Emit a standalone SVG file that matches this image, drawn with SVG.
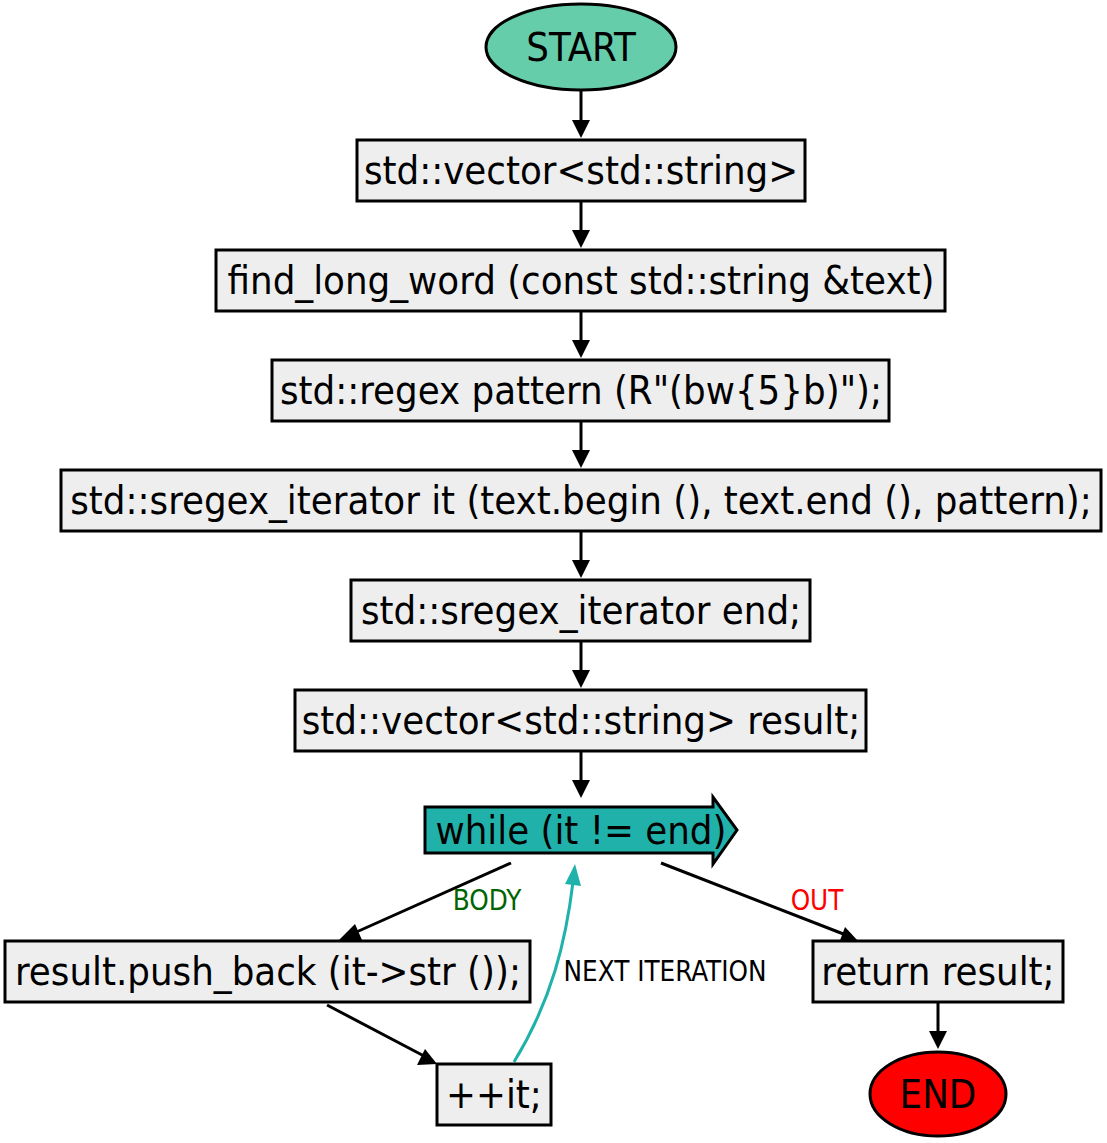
<svg xmlns="http://www.w3.org/2000/svg" width="1107" height="1143" viewBox="0 0 1107 1143">
<style>
.box{fill:#eeeeee;stroke:#000;stroke-width:3}
.t{font-family:"DejaVu Sans Condensed","DejaVu Sans",sans-serif;font-size:39.7px;text-anchor:middle;fill:#000}
.lbl{font-family:"DejaVu Sans Condensed","DejaVu Sans",sans-serif;font-size:27.5px;text-anchor:middle}
.e{fill:none;stroke:#000;stroke-width:3}
</style>
<rect width="1107" height="1143" fill="#fff"/>
<g id="edges">
<path class="e" d="M581,91 L581,126" />
<path d="M572,120 L581,138 L590,120 z" fill="#000"/>
<path class="e" d="M581,202 L581,236" />
<path d="M572,230 L581,248 L590,230 z" fill="#000"/>
<path class="e" d="M581,312 L581,346" />
<path d="M572,340 L581,358 L590,340 z" fill="#000"/>
<path class="e" d="M581,422 L581,456" />
<path d="M572,450 L581,468 L590,450 z" fill="#000"/>
<path class="e" d="M581,532 L581,566" />
<path d="M572,560 L581,578 L590,560 z" fill="#000"/>
<path class="e" d="M581,642 L581,676" />
<path d="M572,670 L581,688 L590,670 z" fill="#000"/>
<path class="e" d="M581,752 L581,786" />
<path d="M572,780 L581,798 L590,780 z" fill="#000"/>
<path class="e" d="M511,863 L352,934" />
<path d="M355,924 L338,941 L362,940 z" fill="#000"/>
<text class="lbl" x="487" y="910" fill="#006400">BODY</text>
<path class="e" d="M327,1005 L424,1056" />
<path d="M417,1065 L437,1064 L425,1049 z" fill="#000"/>
<path fill="none" stroke="#20b2aa" stroke-width="3" d="M514,1062 C552,1000 566,940 573,882" />
<path d="M565,884 L575,864 L581,886 z" fill="#20b2aa"/>
<text class="lbl" x="665" y="981" fill="#000">NEXT ITERATION</text>
<path class="e" d="M661,863 L846,935" />
<path d="M839,943 L859,942 L845,927 z" fill="#000"/>
<text class="lbl" x="817" y="910" fill="#ff0000">OUT</text>
<path class="e" d="M938,1003 L938,1037" />
<path d="M929,1031 L938,1049 L947,1031 z" fill="#000"/>
</g>
<g id="start"><ellipse cx="581" cy="47" rx="95" ry="43" fill="#66cdaa" stroke="#000" stroke-width="3"/><text class="t" x="581" y="61">START</text></g>
<g id="n1"><rect class="box" x="357" y="140" width="448" height="61"/><text class="t" x="581" y="184">std::vector&lt;std::string&gt;</text></g>
<g id="n2"><rect class="box" x="216" y="250" width="729" height="61"/><text class="t" x="581" y="294">find_long_word (const std::string &amp;text)</text></g>
<g id="n3"><rect class="box" x="272" y="360" width="617" height="61"/><text class="t" x="581" y="404">std::regex pattern (R"(bw{5}b)");</text></g>
<g id="n4"><rect class="box" x="61" y="470" width="1040" height="61"/><text class="t" x="581" y="514">std::sregex_iterator it (text.begin (), text.end (), pattern);</text></g>
<g id="n5"><rect class="box" x="351" y="580" width="459" height="61"/><text class="t" x="581" y="624">std::sregex_iterator end;</text></g>
<g id="n6"><rect class="box" x="295" y="690" width="571" height="61"/><text class="t" x="581" y="734">std::vector&lt;std::string&gt; result;</text></g>
<g id="loop"><path d="M425,807 L713,807 L713,797 L737,830 L713,864 L713,853 L425,853 z" fill="#20b2aa" stroke="#000" stroke-width="3"/><text class="t" x="581" y="844">while (it != end)</text></g>
<g id="body1"><rect class="box" x="5" y="941" width="525" height="61"/><text class="t" x="268" y="985">result.push_back (it-&gt;str ());</text></g>
<g id="inc"><rect class="box" x="437" y="1064" width="114" height="61"/><text class="t" x="494" y="1108">++it;</text></g>
<g id="ret"><rect class="box" x="813" y="941" width="250" height="61"/><text class="t" x="938" y="985">return result;</text></g>
<g id="end"><ellipse cx="938" cy="1094" rx="68" ry="42" fill="#ff0000" stroke="#000" stroke-width="3"/><text class="t" x="938" y="1108">END</text></g>
</svg>
